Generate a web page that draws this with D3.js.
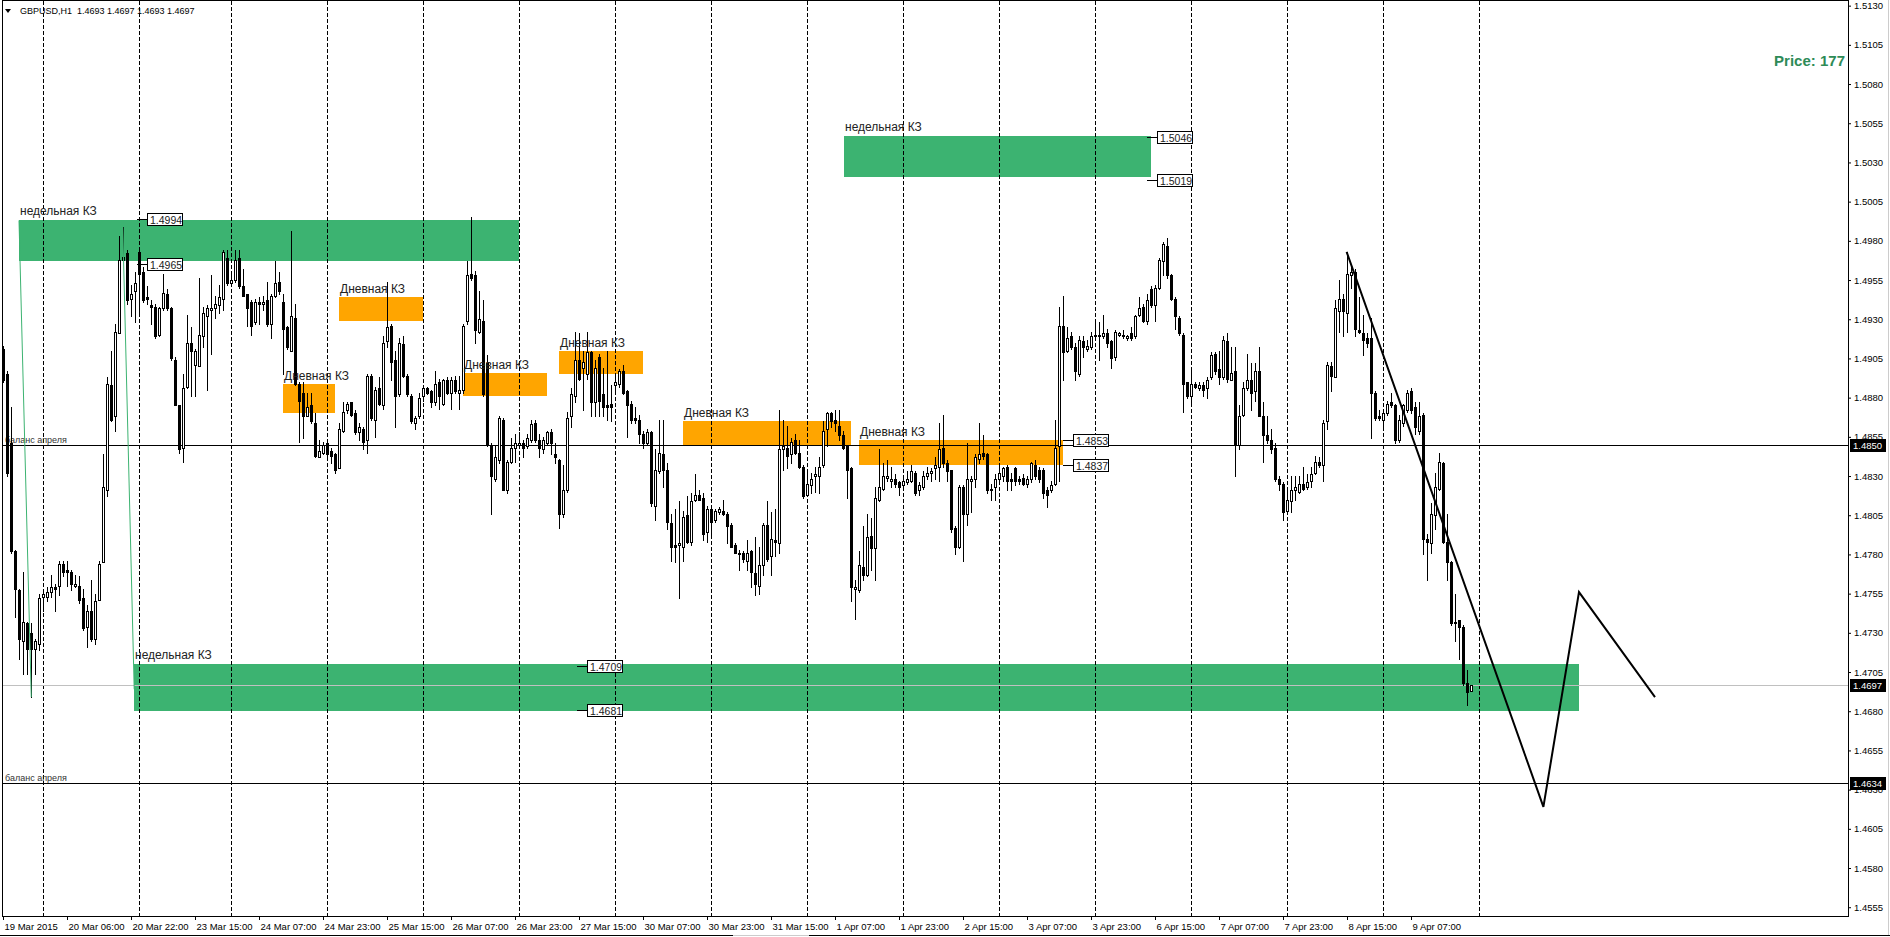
<!DOCTYPE html>
<html>
<head>
<meta charset="utf-8">
<script src="https://cdnjs.cloudflare.com/ajax/libs/d3/7.8.5/d3.min.js"></script>
<style>
  html, body { margin: 0; padding: 0; background: #fff; overflow: hidden; }
  svg { display: block; }
</style>
</head>
<body>
<svg id="chart" width="1890" height="937"></svg>
<script>
'use strict';

// ---- data (GBPUSD H1, 19 Mar - 9 Apr 2015) ----
var title = "GBPUSD,H1  1.4693 1.4697 1.4693 1.4697";
var priceNote = "Price: 177";

var timeLabels = ["19 Mar 2015", "20 Mar 06:00", "20 Mar 22:00", "23 Mar 15:00", "24 Mar 07:00",
  "24 Mar 23:00", "25 Mar 15:00", "26 Mar 07:00", "26 Mar 23:00", "27 Mar 15:00", "30 Mar 07:00",
  "30 Mar 23:00", "31 Mar 15:00", "1 Apr 07:00", "1 Apr 23:00", "2 Apr 15:00", "3 Apr 07:00",
  "3 Apr 23:00", "6 Apr 15:00", "7 Apr 07:00", "7 Apr 23:00", "8 Apr 15:00", "9 Apr 07:00"];

// first bar of every trading day (vertical grid)
var dayStarts = [10, 34, 57, 81, 105, 129, 153, 177, 201, 225, 249, 273, 297, 321, 345, 369];

var priceTicks = [1.5130, 1.5105, 1.5080, 1.5055, 1.5030, 1.5005, 1.4980, 1.4955, 1.4930, 1.4905,
  1.4880, 1.4855, 1.4830, 1.4805, 1.4780, 1.4755, 1.4730, 1.4705, 1.4680, 1.4655, 1.4630, 1.4605,
  1.4580, 1.4555];

var opens = [
1.4911,1.4895,1.4851,1.4782,1.4757,1.4725,1.4736,1.4730,1.4720,1.4723,1.4753,1.4753,
1.4756,1.4759,1.4760,1.4774,1.4770,1.4769,1.4760,1.4760,1.4752,1.4734,1.4744,1.4726,
1.4751,1.4775,1.4821,1.4888,1.4868,1.4921,1.4968,1.4972,1.4943,1.4948,1.4973,1.4960,
1.4944,1.4939,1.4938,1.4920,1.4937,1.4946,1.4937,1.4904,1.4875,1.4848,1.4887,1.4915,
1.4901,1.4900,1.4919,1.4932,1.4936,1.4937,1.4939,1.4943,1.4969,1.4953,1.4955,1.4969,
1.4951,1.4946,1.4941,1.4928,1.4941,1.4940,1.4942,1.4927,1.4945,1.4954,1.4941,1.4925,
1.4910,1.4931,1.4889,1.4883,1.4868,1.4875,1.4864,1.4842,1.4845,1.4851,1.4846,1.4844,
1.4835,1.4859,1.4872,1.4877,1.4870,1.4858,1.4860,1.4853,1.4894,1.4866,1.4886,1.4875,
1.4916,1.4926,1.4904,1.4882,1.4914,1.4894,1.4881,1.4864,1.4868,1.4881,1.4886,1.4884,
1.4877,1.4890,1.4876,1.4891,1.4883,1.4891,1.4883,1.4885,1.4929,1.4959,1.4958,1.4922,
1.4929,1.4902,1.4850,1.4828,1.4840,1.4866,1.4821,1.4839,1.4848,1.4850,1.4851,1.4849,
1.4853,1.4864,1.4853,1.4847,1.4851,1.4858,1.4844,1.4840,1.4806,1.4821,1.4868,1.4881,
1.4904,1.4899,1.4895,1.4909,1.4877,1.4906,1.4882,1.4875,1.4876,1.4888,1.4889,1.4897,
1.4884,1.4876,1.4867,1.4866,1.4857,1.4851,1.4858,1.4811,1.4833,1.4844,1.4834,1.4800,
1.4786,1.4786,1.4785,1.4805,1.4788,1.4815,1.4818,1.4816,1.4794,1.4809,1.4802,1.4807,
1.4808,1.4806,1.4799,1.4786,1.4780,1.4781,1.4776,1.4782,1.4768,1.4760,1.4773,1.4799,
1.4779,1.4789,1.4787,1.4847,1.4848,1.4844,1.4853,1.4845,1.4836,1.4818,1.4824,1.4830,
1.4830,1.4837,1.4860,1.4870,1.4866,1.4862,1.4856,1.4849,1.4835,1.4758,1.4757,1.4772,
1.4767,1.4792,1.4784,1.4815,1.4822,1.4829,1.4827,1.4828,1.4826,1.4824,1.4826,1.4827,
1.4832,1.4821,1.4823,1.4830,1.4832,1.4835,1.4836,1.4848,1.4838,1.4834,1.4797,1.4785,
1.4823,1.4806,1.4827,1.4828,1.4841,1.4845,1.4844,1.4822,1.4823,1.4828,1.4830,1.4836,
1.4828,1.4835,1.4828,1.4829,1.4825,1.4828,1.4837,1.4834,1.4834,1.4821,1.4821,1.4825,
1.4849,1.4926,1.4910,1.4919,1.4912,1.4895,1.4916,1.4911,1.4912,1.4919,1.4919,1.4919,
1.4921,1.4916,1.4906,1.4920,1.4919,1.4918,1.4921,1.4919,1.4933,1.4938,1.4929,1.4949,
1.4939,1.4950,1.4967,1.4977,1.4958,1.4943,1.4931,1.4920,1.4890,1.4881,1.4889,1.4886,
1.4888,1.4886,1.4893,1.4908,1.4898,1.4893,1.4916,1.4891,1.4897,1.4850,1.4869,1.4886,
1.4891,1.4884,1.4897,1.4868,1.4856,1.4853,1.4848,1.4828,1.4825,1.4808,1.4814,1.4821,
1.4820,1.4825,1.4823,1.4827,1.4832,1.4839,1.4837,1.4865,1.4900,1.4893,1.4935,1.4943,
1.4934,1.4958,1.4960,1.4923,1.4921,1.4918,1.4918,1.4883,1.4868,1.4866,1.4870,1.4877,
1.4875,1.4853,1.4864,1.4872,1.4884,1.4874,1.4859,1.4869,1.4790,1.4787,1.4805,1.4822,
1.4838,1.4788,1.4775,1.4737,1.4738,1.4734,1.4698,1.4693];

var highs = [
1.4913,1.4897,1.4874,1.4783,1.4758,1.4769,1.4737,1.4736,1.4726,1.4755,1.4758,1.4759,
1.4767,1.4761,1.4776,1.4776,1.4776,1.4770,1.4767,1.4766,1.4758,1.4748,1.4764,1.4755,
1.4776,1.4844,1.4893,1.4910,1.4927,1.4983,1.4989,1.4974,1.4952,1.4960,1.4974,1.4963,
1.4951,1.4942,1.4940,1.4938,1.4959,1.4949,1.4938,1.4906,1.4875,1.4895,1.4933,1.4925,
1.4911,1.4956,1.4938,1.4939,1.4958,1.4945,1.4952,1.4974,1.4974,1.4958,1.4974,1.4974,
1.4962,1.4946,1.4942,1.4943,1.4944,1.4945,1.4954,1.4946,1.4967,1.4960,1.4946,1.4926,
1.4986,1.4940,1.4890,1.4890,1.4883,1.4883,1.4870,1.4853,1.4852,1.4853,1.4848,1.4845,
1.4864,1.4877,1.4877,1.4877,1.4872,1.4864,1.4861,1.4895,1.4895,1.4887,1.4893,1.4919,
1.4954,1.4927,1.4910,1.4918,1.4919,1.4895,1.4882,1.4868,1.4883,1.4888,1.4887,1.4885,
1.4897,1.4892,1.4892,1.4893,1.4893,1.4894,1.4894,1.4927,1.4967,1.4995,1.4961,1.4948,
1.4942,1.4907,1.4851,1.4849,1.4868,1.4867,1.4840,1.4854,1.4857,1.4858,1.4853,1.4857,
1.4866,1.4866,1.4857,1.4855,1.4859,1.4860,1.4851,1.4841,1.4837,1.4871,1.4886,1.4922,
1.4921,1.4910,1.4922,1.4910,1.4904,1.4908,1.4899,1.4910,1.4888,1.4895,1.4898,1.4901,
1.4885,1.4878,1.4874,1.4869,1.4859,1.4860,1.4859,1.4847,1.4866,1.4866,1.4838,1.4806,
1.4809,1.4814,1.4808,1.4817,1.4819,1.4831,1.4821,1.4819,1.4811,1.4810,1.4809,1.4810,
1.4815,1.4807,1.4800,1.4787,1.4783,1.4782,1.4789,1.4783,1.4791,1.4785,1.4800,1.4814,
1.4807,1.4809,1.4872,1.4866,1.4862,1.4854,1.4857,1.4853,1.4837,1.4832,1.4832,1.4836,
1.4842,1.4865,1.4871,1.4871,1.4872,1.4872,1.4859,1.4850,1.4836,1.4764,1.4782,1.4798,
1.4806,1.4803,1.4823,1.4847,1.4838,1.4840,1.4836,1.4831,1.4827,1.4828,1.4833,1.4837,
1.4833,1.4826,1.4833,1.4836,1.4835,1.4842,1.4864,1.4869,1.4840,1.4834,1.4798,1.4824,
1.4824,1.4851,1.4830,1.4844,1.4864,1.4856,1.4845,1.4825,1.4831,1.4836,1.4836,1.4837,
1.4832,1.4836,1.4830,1.4831,1.4830,1.4839,1.4840,1.4836,1.4835,1.4823,1.4827,1.4866,
1.4938,1.4945,1.4925,1.4922,1.4915,1.4919,1.4919,1.4917,1.4922,1.4928,1.4928,1.4933,
1.4924,1.4917,1.4923,1.4922,1.4923,1.4920,1.4925,1.4933,1.4944,1.4940,1.4946,1.4951,
1.4952,1.4969,1.4979,1.4982,1.4959,1.4944,1.4932,1.4921,1.4890,1.4897,1.4890,1.4890,
1.4890,1.4893,1.4909,1.4909,1.4910,1.4919,1.4921,1.4912,1.4912,1.4875,1.4890,1.4908,
1.4902,1.4902,1.4912,1.4877,1.4868,1.4860,1.4851,1.4830,1.4826,1.4821,1.4830,1.4830,
1.4830,1.4836,1.4831,1.4836,1.4843,1.4842,1.4866,1.4903,1.4903,1.4942,1.4955,1.4946,
1.4973,1.4963,1.4962,1.4944,1.4933,1.4921,1.4931,1.4884,1.4872,1.4872,1.4878,1.4883,
1.4876,1.4869,1.4876,1.4885,1.4886,1.4877,1.4877,1.4870,1.4793,1.4813,1.4832,1.4845,
1.4839,1.4806,1.4776,1.4755,1.4738,1.4735,1.4706,1.4697];

var lows = [
1.4890,1.4830,1.4781,1.4740,1.4713,1.4704,1.4704,1.4689,1.4704,1.4719,1.4744,1.4750,
1.4753,1.4744,1.4754,1.4766,1.4760,1.4757,1.4759,1.4749,1.4732,1.4721,1.4725,1.4723,
1.4751,1.4775,1.4817,1.4865,1.4859,1.4921,1.4968,1.4940,1.4932,1.4928,1.4933,1.4941,
1.4940,1.4927,1.4918,1.4919,1.4936,1.4936,1.4904,1.4875,1.4845,1.4839,1.4886,1.4881,
1.4881,1.4900,1.4912,1.4885,1.4908,1.4931,1.4934,1.4936,1.4952,1.4951,1.4954,1.4950,
1.4945,1.4926,1.4920,1.4927,1.4927,1.4936,1.4926,1.4918,1.4944,1.4946,1.4895,1.4911,
1.4910,1.4888,1.4852,1.4854,1.4868,1.4864,1.4842,1.4842,1.4844,1.4843,1.4838,1.4832,
1.4835,1.4858,1.4870,1.4868,1.4857,1.4853,1.4847,1.4845,1.4866,1.4855,1.4875,1.4873,
1.4912,1.4891,1.4861,1.4881,1.4893,1.4881,1.4864,1.4860,1.4867,1.4878,1.4882,1.4874,
1.4875,1.4873,1.4875,1.4882,1.4873,1.4883,1.4873,1.4883,1.4927,1.4955,1.4915,1.4921,
1.4881,1.4849,1.4806,1.4827,1.4838,1.4821,1.4819,1.4838,1.4839,1.4849,1.4842,1.4848,
1.4852,1.4852,1.4842,1.4845,1.4850,1.4844,1.4838,1.4797,1.4804,1.4820,1.4861,1.4877,
1.4891,1.4872,1.4892,1.4868,1.4868,1.4868,1.4868,1.4866,1.4865,1.4883,1.4887,1.4882,
1.4855,1.4864,1.4864,1.4851,1.4848,1.4850,1.4811,1.4802,1.4832,1.4823,1.4796,1.4776,
1.4775,1.4752,1.4776,1.4787,1.4786,1.4814,1.4815,1.4789,1.4788,1.4793,1.4801,1.4806,
1.4805,1.4787,1.4785,1.4781,1.4770,1.4775,1.4770,1.4759,1.4754,1.4755,1.4767,1.4776,
1.4767,1.4779,1.4781,1.4834,1.4835,1.4838,1.4844,1.4835,1.4816,1.4817,1.4819,1.4820,
1.4819,1.4836,1.4849,1.4861,1.4859,1.4853,1.4847,1.4816,1.4750,1.4739,1.4756,1.4764,
1.4766,1.4770,1.4764,1.4814,1.4821,1.4827,1.4823,1.4823,1.4818,1.4822,1.4825,1.4826,
1.4818,1.4818,1.4822,1.4828,1.4827,1.4828,1.4827,1.4836,1.4827,1.4794,1.4780,1.4784,
1.4776,1.4799,1.4807,1.4823,1.4838,1.4841,1.4819,1.4815,1.4815,1.4827,1.4827,1.4821,
1.4821,1.4824,1.4825,1.4824,1.4823,1.4826,1.4828,1.4826,1.4816,1.4810,1.4820,1.4824,
1.4827,1.4891,1.4909,1.4911,1.4891,1.4894,1.4906,1.4910,1.4911,1.4917,1.4904,1.4918,
1.4912,1.4899,1.4904,1.4919,1.4918,1.4917,1.4917,1.4918,1.4932,1.4928,1.4927,1.4938,
1.4929,1.4949,1.4958,1.4956,1.4942,1.4924,1.4920,1.4871,1.4880,1.4875,1.4886,1.4885,
1.4881,1.4880,1.4892,1.4895,1.4889,1.4892,1.4890,1.4891,1.4830,1.4847,1.4868,1.4885,
1.4872,1.4878,1.4868,1.4839,1.4851,1.4845,1.4827,1.4821,1.4802,1.4806,1.4807,1.4815,
1.4819,1.4821,1.4822,1.4823,1.4831,1.4836,1.4827,1.4860,1.4884,1.4893,1.4922,1.4919,
1.4922,1.4950,1.4919,1.4921,1.4907,1.4912,1.4854,1.4866,1.4866,1.4861,1.4869,1.4874,
1.4851,1.4852,1.4862,1.4871,1.4870,1.4857,1.4857,1.4780,1.4764,1.4781,1.4796,1.4821,
1.4787,1.4764,1.4735,1.4725,1.4713,1.4697,1.4684,1.4693];

var closes = [
1.4891,1.4832,1.4782,1.4758,1.4726,1.4737,1.4720,1.4720,1.4725,1.4752,1.4755,1.4756,
1.4759,1.4758,1.4774,1.4769,1.4769,1.4761,1.4761,1.4751,1.4733,1.4744,1.4726,1.4750,
1.4774,1.4823,1.4889,1.4866,1.4922,1.4968,1.4970,1.4942,1.4946,1.4953,1.4959,1.4942,
1.4943,1.4938,1.4919,1.4937,1.4947,1.4937,1.4905,1.4875,1.4847,1.4886,1.4915,1.4910,
1.4910,1.4920,1.4934,1.4937,1.4937,1.4940,1.4944,1.4973,1.4953,1.4955,1.4968,1.4951,
1.4945,1.4937,1.4926,1.4941,1.4940,1.4941,1.4927,1.4945,1.4953,1.4948,1.4924,1.4912,
1.4932,1.4889,1.4878,1.4868,1.4874,1.4865,1.4843,1.4846,1.4850,1.4844,1.4843,1.4834,
1.4860,1.4871,1.4876,1.4869,1.4858,1.4861,1.4852,1.4894,1.4867,1.4885,1.4876,1.4915,
1.4925,1.4903,1.4881,1.4915,1.4894,1.4882,1.4865,1.4867,1.4880,1.4886,1.4883,1.4877,
1.4889,1.4881,1.4891,1.4883,1.4891,1.4884,1.4885,1.4926,1.4958,1.4956,1.4923,1.4930,
1.4882,1.4850,1.4830,1.4842,1.4867,1.4821,1.4839,1.4848,1.4851,1.4851,1.4848,1.4854,
1.4863,1.4853,1.4848,1.4853,1.4858,1.4851,1.4842,1.4806,1.4821,1.4867,1.4882,1.4904,
1.4892,1.4903,1.4909,1.4877,1.4899,1.4878,1.4874,1.4874,1.4874,1.4890,1.4897,1.4883,
1.4875,1.4866,1.4866,1.4857,1.4851,1.4858,1.4813,1.4834,1.4845,1.4834,1.4801,1.4785,
1.4785,1.4787,1.4804,1.4788,1.4814,1.4818,1.4815,1.4793,1.4809,1.4801,1.4808,1.4809,
1.4806,1.4798,1.4785,1.4781,1.4781,1.4777,1.4781,1.4769,1.4761,1.4773,1.4799,1.4777,
1.4790,1.4788,1.4847,1.4849,1.4843,1.4852,1.4845,1.4836,1.4817,1.4825,1.4828,1.4831,
1.4836,1.4859,1.4870,1.4865,1.4864,1.4856,1.4848,1.4834,1.4759,1.4759,1.4773,1.4767,
1.4791,1.4784,1.4816,1.4823,1.4830,1.4830,1.4828,1.4825,1.4823,1.4827,1.4828,1.4833,
1.4819,1.4824,1.4830,1.4832,1.4833,1.4837,1.4847,1.4838,1.4833,1.4796,1.4785,1.4823,
1.4806,1.4828,1.4828,1.4842,1.4844,1.4843,1.4821,1.4821,1.4828,1.4832,1.4835,1.4827,
1.4827,1.4827,1.4827,1.4825,1.4828,1.4838,1.4830,1.4828,1.4819,1.4818,1.4824,1.4848,
1.4926,1.4909,1.4918,1.4912,1.4897,1.4917,1.4912,1.4913,1.4919,1.4920,1.4920,1.4921,
1.4915,1.4905,1.4922,1.4921,1.4920,1.4919,1.4918,1.4932,1.4937,1.4929,1.4942,1.4939,
1.4950,1.4968,1.4978,1.4958,1.4943,1.4932,1.4921,1.4889,1.4881,1.4889,1.4887,1.4888,
1.4885,1.4891,1.4907,1.4897,1.4893,1.4917,1.4892,1.4896,1.4850,1.4868,1.4886,1.4891,
1.4883,1.4897,1.4868,1.4856,1.4853,1.4847,1.4828,1.4825,1.4807,1.4815,1.4821,1.4823,
1.4825,1.4822,1.4826,1.4831,1.4839,1.4837,1.4864,1.4901,1.4894,1.4937,1.4943,1.4935,
1.4959,1.4960,1.4924,1.4922,1.4917,1.4915,1.4883,1.4867,1.4867,1.4870,1.4876,1.4875,
1.4853,1.4866,1.4875,1.4883,1.4872,1.4861,1.4868,1.4790,1.4788,1.4806,1.4823,1.4839,
1.4788,1.4775,1.4736,1.4736,1.4734,1.4698,1.4692,1.4697];

// weekly zones ("недельная КЗ"): bar range and price range
var weeklyStart = [4, 210.25, 32.8];
var weeklyEnd = [129, 287, 394];
var weeklyTop = [1.4993, 1.5047, 1.4710];
var weeklyBottom = [1.4967, 1.5021, 1.4680];

// daily zones ("Дневная КЗ")
var dailyStart = [70, 84, 115.1, 139.1, 170.1, 214.1];
var dailyEnd = [83, 105, 135.9, 159.9, 211.9, 264.9];
var dailyTop = [1.4889, 1.4944, 1.4896, 1.4910, 1.4865, 1.4853];
var dailyBottom = [1.4870, 1.4929, 1.4881, 1.4895, 1.4850, 1.4837];

// boxed price tags and the bar they hang from
var tagPrices = [1.4994, 1.4965, 1.5046, 1.5019, 1.4709, 1.4681, 1.4853, 1.4837];
var tagBars = [33.5, 33.5, 286, 286, 143.5, 143.5, 264.9, 264.9];

// horizontal levels
var levelPrices = [1.4850, 1.4634];
var levelText = "баланс апреля";
var bidPrice = 1.4697;

// thin green guide lines
var guideBars = [[4, 7.07], [29.9, 32.8]];
var guidePrices = [[1.4993, 1.4689], [1.4993, 1.4694]];

// hand drawn forecast
var forecastBars = [335.9, 385.1, 394, 413];
var forecastPrices = [1.4973, 1.4619, 1.4756, 1.4689];

// ---- drawing ----
var W = 1890, H = 937;
var plotLeft = 2, plotRight = 1848, plotTop = 1, plotBottom = 916;
var FONT = '"Liberation Sans", Arial, sans-serif';

var x = d3.scaleLinear().domain([0, 1]).range([3, 7]);
var y = d3.scaleLinear().domain([1.45494, 1.51336]).range([916, 0]);

var svg = d3.select("#chart").attr("font-family", FONT);

svg.append("rect").attr("width", W).attr("height", H).attr("fill", "#fff");

svg.append("clipPath").attr("id", "plotClip")
  .append("rect")
  .attr("x", plotLeft + 1).attr("y", plotTop)
  .attr("width", plotRight - plotLeft - 1).attr("height", plotBottom - plotTop);

var plot = svg.append("g").attr("clip-path", "url(#plotClip)");

function px(v) { return Math.round(v); }

// zones
var weekly = d3.range(weeklyStart.length);
plot.selectAll(".wz").data(weekly).enter().append("rect")
  .attr("class", "wz")
  .attr("x", function (i) { return px(x(weeklyStart[i])); })
  .attr("y", function (i) { return px(y(weeklyTop[i])); })
  .attr("width", function (i) { return px(x(weeklyEnd[i])) - px(x(weeklyStart[i])); })
  .attr("height", function (i) { return px(y(weeklyBottom[i])) - px(y(weeklyTop[i])); })
  .attr("fill", "#3CB371");

var daily = d3.range(dailyStart.length);
plot.selectAll(".dz").data(daily).enter().append("rect")
  .attr("class", "dz")
  .attr("x", function (i) { return px(x(dailyStart[i])); })
  .attr("y", function (i) { return px(y(dailyTop[i])); })
  .attr("width", function (i) { return px(x(dailyEnd[i])) - px(x(dailyStart[i])); })
  .attr("height", function (i) { return px(y(dailyBottom[i])) - px(y(dailyTop[i])); })
  .attr("fill", "#FFA500");

// vertical dashed grid at day starts
plot.selectAll(".vgrid").data(dayStarts).enter().append("line")
  .attr("class", "vgrid")
  .attr("x1", function (d) { return px(x(d)) + 0.5; })
  .attr("x2", function (d) { return px(x(d)) + 0.5; })
  .attr("y1", plotTop).attr("y2", plotBottom)
  .attr("stroke", "#000").attr("stroke-width", 1)
  .attr("stroke-dasharray", "4,2");

// level lines
plot.selectAll(".level").data(levelPrices).enter().append("line")
  .attr("class", "level")
  .attr("x1", plotLeft).attr("x2", plotRight)
  .attr("y1", function (d) { return px(y(d)) + 0.5; })
  .attr("y2", function (d) { return px(y(d)) + 0.5; })
  .attr("stroke", "#000").attr("stroke-width", 1);

plot.selectAll(".levelText").data(levelPrices).enter().append("text")
  .attr("class", "levelText")
  .attr("x", 5).attr("y", function (d) { return px(y(d)) - 2; })
  .attr("font-size", "9px").attr("fill", "#333")
  .text(levelText);

plot.append("line")
  .attr("x1", plotLeft).attr("x2", plotRight)
  .attr("y1", px(y(bidPrice)) + 0.5).attr("y2", px(y(bidPrice)) + 0.5)
  .attr("stroke", "#C0C0C0").attr("stroke-width", 1);

// candles
var bars = d3.range(opens.length);
var candle = plot.selectAll(".candle").data(bars).enter().append("g").attr("class", "candle");

candle.append("line")
  .attr("x1", function (i) { return px(x(i)) + 0.5; })
  .attr("x2", function (i) { return px(x(i)) + 0.5; })
  .attr("y1", function (i) { return px(y(highs[i])); })
  .attr("y2", function (i) { return px(y(lows[i])) + 1; })
  .attr("stroke", "#000").attr("stroke-width", 1);

candle.append("rect")
  .attr("x", function (i) { return px(x(i)) - 0.5; })
  .attr("y", function (i) { return px(y(Math.max(opens[i], closes[i]))) + 0.5; })
  .attr("width", 2)
  .attr("height", function (i) {
    return px(y(Math.min(opens[i], closes[i]))) - px(y(Math.max(opens[i], closes[i])));
  })
  .attr("fill", function (i) { return closes[i] >= opens[i] ? "#fff" : "#000"; })
  .attr("stroke", "#000").attr("stroke-width", 1);

// thin guide lines
var guideLine = d3.line()
  .x(function (d) { return x(d[0]); })
  .y(function (d) { return y(d[1]); });

plot.selectAll(".guide").data(d3.range(guideBars.length)).enter().append("path")
  .attr("class", "guide")
  .attr("d", function (k) {
    return guideLine([[guideBars[k][0], guidePrices[k][0]], [guideBars[k][1], guidePrices[k][1]]]);
  })
  .attr("fill", "none").attr("stroke", "#3CB371").attr("stroke-width", 1);

// forecast path
plot.append("path")
  .datum(d3.range(forecastBars.length))
  .attr("d", d3.line()
    .x(function (k) { return x(forecastBars[k]); })
    .y(function (k) { return y(forecastPrices[k]); }))
  .attr("fill", "none").attr("stroke", "#000").attr("stroke-width", 2)
  .attr("stroke-linejoin", "miter");

// zone captions
plot.selectAll(".wlabel").data(weekly).enter().append("text")
  .attr("class", "wlabel")
  .attr("x", function (i) { return px(x(weeklyStart[i])) + 1; })
  .attr("y", function (i) { return px(y(weeklyTop[i])) - 5; })
  .attr("font-size", "12px").attr("fill", "#222")
  .text("недельная КЗ");

plot.selectAll(".dlabel").data(daily).enter().append("text")
  .attr("class", "dlabel")
  .attr("x", function (i) { return px(x(dailyStart[i])) + 1; })
  .attr("y", function (i) { return px(y(dailyTop[i])) - 4; })
  .attr("font-size", "12px").attr("fill", "#222")
  .text("Дневная КЗ");

// boxed price tags
var tags = plot.selectAll(".tag").data(d3.range(tagPrices.length)).enter().append("g")
  .attr("class", "tag")
  .attr("transform", function (k) {
    return "translate(" + px(x(tagBars[k])) + "," + px(y(tagPrices[k])) + ")";
  });

tags.append("line")
  .attr("x1", 0).attr("x2", 10).attr("y1", 0.5).attr("y2", 0.5)
  .attr("stroke", "#000");

tags.append("rect")
  .attr("x", 10.5).attr("y", -5.5).attr("width", 35).attr("height", 12)
  .attr("fill", "#fff").attr("stroke", "#000").attr("stroke-width", 1);

tags.append("text")
  .attr("x", 13).attr("y", 4.5)
  .attr("font-size", "10.5px").attr("fill", "#222")
  .text(function (k) { return d3.format(".4f")(tagPrices[k]); });

// frame
svg.append("rect")
  .attr("x", plotLeft + 0.5).attr("y", plotTop - 0.5)
  .attr("width", plotRight - plotLeft).attr("height", plotBottom - plotTop + 1)
  .attr("fill", "none").attr("stroke", "#000").attr("stroke-width", 1);

// price axis
var yAxis = d3.axisRight(y)
  .tickValues(priceTicks)
  .tickFormat(d3.format(".4f"))
  .tickSize(3)
  .tickSizeOuter(0);

var yg = svg.append("g").attr("transform", "translate(" + plotRight + ",0)").call(yAxis);
yg.select(".domain").remove();
yg.attr("font-family", FONT).attr("font-size", "9.5px");
yg.selectAll("text").attr("fill", "#000");

// black price boxes on the axis
var marks = [1.4850, bidPrice, 1.4634];
var mk = svg.selectAll(".mark").data(marks).enter().append("g")
  .attr("class", "mark")
  .attr("transform", function (d) { return "translate(1850," + px(y(d)) + ")"; });
mk.append("rect").attr("x", 0).attr("y", -6).attr("width", 36).attr("height", 13).attr("fill", "#000");
mk.append("text").attr("x", 3).attr("y", 4)
  .attr("font-size", "9.5px").attr("fill", "#fff")
  .text(function (d) { return d3.format(".4f")(d); });

// time axis
var xAxis = d3.axisBottom(x)
  .tickValues(timeLabels.map(function (t, i) { return i * 16; }))
  .tickFormat(function (d, i) { return timeLabels[i]; })
  .tickSize(4)
  .tickSizeOuter(0);

var xg = svg.append("g").attr("transform", "translate(0," + plotBottom + ")").call(xAxis);
xg.select(".domain").remove();
xg.attr("font-family", FONT).attr("font-size", "9.5px");
xg.selectAll("text").attr("text-anchor", "start").attr("x", 1).attr("fill", "#000");

// window edges
svg.append("line").attr("x1", 0).attr("x2", 733).attr("y1", 935.5).attr("y2", 935.5).attr("stroke", "#000");
svg.append("line").attr("x1", 733).attr("x2", 809).attr("y1", 935.5).attr("y2", 935.5).attr("stroke", "#ccc");
svg.append("line").attr("x1", 809).attr("x2", W).attr("y1", 935.5).attr("y2", 935.5).attr("stroke", "#000");
svg.append("line").attr("x1", 1888.5).attr("x2", 1888.5).attr("y1", 0).attr("y2", 935).attr("stroke", "#ccc");

// title
svg.append("path").attr("d", "M5,9 L11,9 L8,13 Z").attr("fill", "#000");
svg.append("text").attr("x", 20).attr("y", 14)
  .attr("font-size", "9px").attr("fill", "#000")
  .attr("xml:space", "preserve").style("white-space", "pre")
  .text(title);

svg.append("text").attr("x", 1845).attr("y", 66)
  .attr("text-anchor", "end")
  .attr("font-size", "15px").attr("font-weight", "bold").attr("fill", "#2E8B57")
  .text(priceNote);
</script>
</body>
</html>
